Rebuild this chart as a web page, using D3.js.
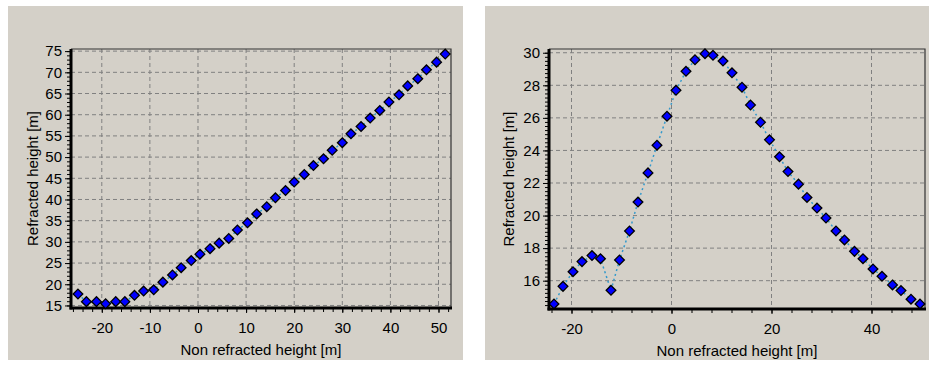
<!DOCTYPE html>
<html><head><meta charset="utf-8">
<script src="https://cdnjs.cloudflare.com/ajax/libs/d3/7.8.5/d3.min.js"></script>
<style>
html,body{margin:0;padding:0;background:#fff;}
svg text{font-family:"Liberation Sans",Arial,sans-serif;font-size:15px;fill:#000;}
</style></head>
<body>
<svg id="c" width="929" height="368"></svg>
<script>
// ---- data ----
const leftX = [-24.95,-23.2,-21.1,-19.2,-17.1,-15.2,-13.2,-11.3,-9.2,-7.3,-5.3,-3.5,-1.4,0.4,2.5,4.4,6.4,8.2,10.3,12.2,14.3,16.1,18.2,20.0,22.1,24.0,26.1,27.9,30.0,31.8,33.9,35.8,37.8,39.7,41.8,43.6,45.7,47.5,49.6,51.4];
const leftY = [17.7,15.9,15.9,15.4,15.9,15.9,17.4,18.4,18.7,20.5,22.2,23.9,25.6,27.1,28.4,29.7,30.8,32.8,34.5,36.6,38.3,40.4,42.1,44.1,45.9,48.0,49.6,51.6,53.4,55.5,57.2,59.2,61.0,63.0,64.7,66.8,68.5,70.6,72.4,74.3];
const rightX = [-23.5,-21.7,-19.7,-17.9,-15.9,-14.2,-12.1,-10.4,-8.4,-6.7,-4.7,-2.9,-0.9,0.9,2.9,4.7,6.7,8.3,10.3,12.1,14.1,15.8,17.8,19.6,21.6,23.3,25.4,27.1,29.1,30.9,32.9,34.6,36.6,38.3,40.3,42.1,44.2,45.9,47.9,49.7];
const rightY = [14.57,15.65,16.55,17.17,17.54,17.35,15.41,17.27,19.05,20.83,22.62,24.32,26.10,27.69,28.86,29.57,29.94,29.84,29.49,28.77,27.88,26.79,25.73,24.65,23.61,22.70,21.93,21.11,20.46,19.85,19.05,18.50,17.80,17.35,16.72,16.27,15.74,15.39,14.86,14.57];
const leftXTicks = [-20,-10,0,10,20,30,40,50];
const leftYTicks = [15,20,25,30,35,40,45,50,55,60,65,70,75];
const rightXTicks = [-20,0,20,40];
const rightYTicks = [16,18,20,22,24,26,28,30];
const xTitle = "Non refracted height [m]";
const yTitle = "Refracted height [m]";

const svg = d3.select("#c");
const fmt = d => String(d);

function panel(cfg){
  const g = svg.append("g");
  g.append("rect").attr("x",cfg.px).attr("y",cfg.py).attr("width",cfg.pw).attr("height",cfg.ph).attr("fill","#d4d0c8");
  const x = d3.scaleLinear().domain(cfg.xd).range([cfg.l, cfg.r]);
  const y = d3.scaleLinear().domain(cfg.yd).range([cfg.b, cfg.t]);
  // grid
  g.append("g").selectAll("line").data(cfg.xt).join("line")
    .attr("x1",d=>x(d)).attr("x2",d=>x(d)).attr("y1",cfg.t).attr("y2",cfg.b)
    .attr("stroke","#808080").attr("stroke-dasharray","4,3");
  g.append("g").selectAll("line").data(cfg.yt).join("line")
    .attr("y1",d=>y(d)).attr("y2",d=>y(d)).attr("x1",cfg.l).attr("x2",cfg.r)
    .attr("stroke","#808080").attr("stroke-dasharray","4,3");
  // top/right border
  g.append("path").attr("d",`M${cfg.l},${cfg.t}H${cfg.r}V${cfg.b}`).attr("fill","none").attr("stroke","#333").attr("stroke-width",1.2);
  // line
  const pts = cfg.xs.map((v,i)=>[v,cfg.ys[i]]);
  g.append("path").datum(pts).attr("d",d3.line().x(d=>x(d[0])).y(d=>y(d[1])))
    .attr("fill","none").attr("stroke","#3399cc").attr("stroke-width",1.5).attr("stroke-dasharray","2,3");
  // minor ticks
  const xmin = d3.range(Math.ceil(cfg.xd[0]/cfg.xm)*cfg.xm, cfg.xd[1], cfg.xm);
  const ymin = d3.range(Math.ceil(cfg.yd[0]/cfg.ym)*cfg.ym, cfg.yd[1], cfg.ym);
  g.append("g").attr("transform",`translate(0,${cfg.b})`)
    .call(d3.axisBottom(x).tickValues(xmin).tickSize(4).tickFormat(""))
    .call(s=>s.select(".domain").remove()).selectAll("line").attr("stroke","#000");
  g.append("g").attr("transform",`translate(${cfg.l},0)`)
    .call(d3.axisLeft(y).tickValues(ymin).tickSize(4).tickFormat(""))
    .call(s=>s.select(".domain").remove()).selectAll("line").attr("stroke","#000");
  // major axes
  const ax = g.append("g").attr("transform",`translate(0,${cfg.b})`)
    .call(d3.axisBottom(x).tickValues(cfg.xt).tickFormat(fmt).tickSize(5).tickSizeOuter(0).tickPadding(9));
  const ay = g.append("g").attr("transform",`translate(${cfg.l},0)`)
    .call(d3.axisLeft(y).tickValues(cfg.yt).tickFormat(fmt).tickSize(6).tickSizeOuter(0).tickPadding(3));
  [ax,ay].forEach(a=>{
    a.select(".domain").remove();
    a.selectAll("line").attr("stroke","#000");
    a.selectAll("text").attr("font-size",15).attr("font-family","Liberation Sans, Arial, sans-serif").attr("fill","#000");
  });
  // thick axis lines
  g.append("line").attr("x1",cfg.l).attr("x2",cfg.l).attr("y1",cfg.t).attr("y2",cfg.b+1.5).attr("stroke","#000").attr("stroke-width",3);
  g.append("line").attr("x1",cfg.l-1.5).attr("x2",cfg.r+1).attr("y1",cfg.b).attr("y2",cfg.b).attr("stroke","#000").attr("stroke-width",3);
  // markers
  const sym = d3.symbol().type(d3.symbolDiamond2).size(60);
  g.append("g").selectAll("path").data(pts).join("path")
    .attr("transform",d=>`translate(${x(d[0])},${y(d[1])})`).attr("d",sym)
    .attr("fill","#0000ff").attr("stroke","#000").attr("stroke-width",1.3);
  // titles
  g.append("text").attr("x",(cfg.l+cfg.r)/2).attr("y",cfg.b+47).attr("text-anchor","middle").text(xTitle);
  g.append("text").attr("transform",`translate(${cfg.ytx},${(cfg.t+cfg.b)/2}) rotate(-90)`).attr("text-anchor","middle").text(yTitle);
}

panel({px:8,py:6,pw:455,ph:354,l:71,r:451,t:49,b:308,xd:[-26.4,52.6],yd:[14.4,75.5],
  xt:leftXTicks,yt:leftYTicks,xm:2,ym:1,xs:leftX,ys:leftY,ytx:38});
panel({px:485,py:6,pw:444,ph:354,l:549,r:925,t:49,b:309,xd:[-24.5,50.7],yd:[14.26,30.23],
  xt:rightXTicks,yt:rightYTicks,xm:4,ym:0.25,xs:rightX,ys:rightY,ytx:514});
</script>
</body></html>
